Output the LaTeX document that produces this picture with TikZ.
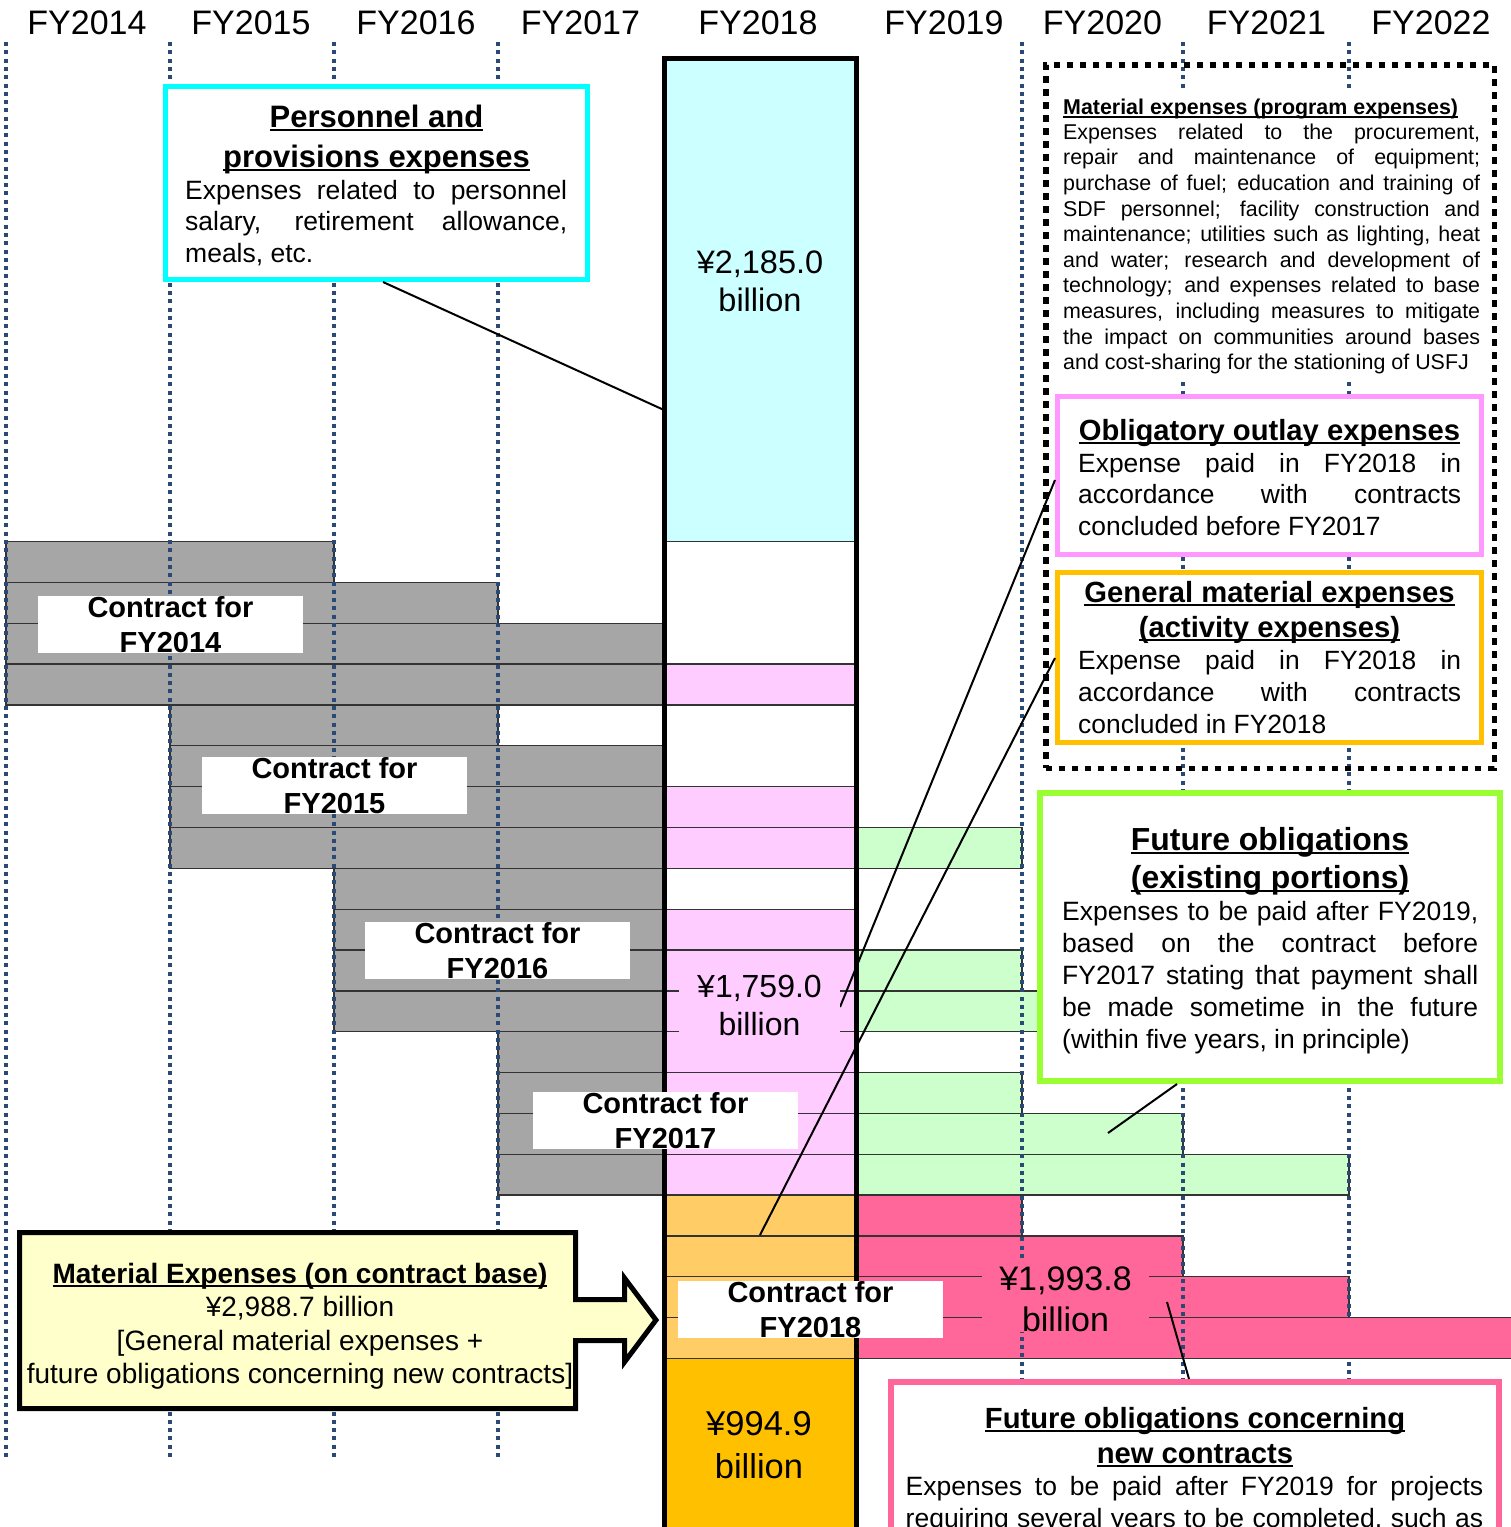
\documentclass[tikz,border=0pt]{standalone}
\usepackage{fontspec}
\setmainfont{Liberation Sans}
\newcommand\fs[2]{\fontsize{#1pt}{#2pt}\selectfont}
\newcommand\uln[1]{\setbox0=\hbox{#1}\rlap{\rule[-0.13em]{\wd0}{0.07em}}\box0}
\newcommand\jl[2]{\makebox[#1pt][s]{#2}}
\definecolor{cGray}{HTML}{A6A6A6}
\definecolor{cPink}{HTML}{FFCCFF}
\definecolor{cGreen}{HTML}{CCFFCC}
\definecolor{cRed}{HTML}{FF6699}
\definecolor{cLOr}{HTML}{FFCC66}
\definecolor{cDOr}{HTML}{FFC000}
\definecolor{cCyanL}{HTML}{CCFFFF}
\definecolor{cYel}{HTML}{FFFFCC}
\definecolor{cNavy}{HTML}{2A4A75}
\definecolor{cCyanB}{HTML}{00FFFF}
\definecolor{cPinkB}{HTML}{FF99FF}
\definecolor{cLime}{HTML}{99FF33}
\newcommand\cell[4]{\filldraw[cellst, fill=#4] (#1,{541.5+40.85*#3}) rectangle (#2,{541.5+40.85*(#3+1)});}
\begin{document}
\begin{tikzpicture}[x=1pt,y=-1pt,
  cellst/.style={draw=black!80, line width=1.3pt},
  dotln/.style={draw=cNavy, line width=3.8pt, dash pattern=on 4pt off 4.3pt},
  callout/.style={draw=black, line width=2pt},
  txt/.style={inner sep=0pt},
  hdr/.style={inner sep=0pt, anchor=base, font=\fs{34}{40}},
  lblbox/.style={fill=white, minimum width=265pt, minimum height=57pt, inner sep=0pt},
  lbltxt/.style={inner sep=0pt, anchor=north, align=center, font=\fs{29}{35}\bfseries},
  infobox/.style={fill=white, inner sep=0pt},
  titletxt/.style={inner sep=0pt, anchor=north, align=center},
  bodytxt/.style={inner sep=0pt, anchor=north west, align=left}
]
\useasboundingbox (0,0) rectangle (1511,1527);
\fill[white] (0,0) rectangle (1511,1527);

% FY2018 column top (personnel)
\filldraw[cellst, fill=cCyanL] (664.5,58.5) rectangle (856.2,541.5);

% contract bars
\cell{6}{334}{0}{cGray}
\cell{6}{498}{1}{cGray}
\foreach \r in {2,3} {\cell{6}{664}{\r}{cGray}}
\cell{170}{498}{4}{cGray}
\foreach \r in {5,6,7} {\cell{170}{664}{\r}{cGray}}
\foreach \r in {8,...,11} {\cell{334}{664}{\r}{cGray}}
\foreach \r in {12,...,15} {\cell{498}{664}{\r}{cGray}}
\foreach \r in {3,6,7,9,10,11,12,13,14,15} {\cell{664.5}{856.2}{\r}{cPink}}
\cell{856.2}{1022}{7}{cGreen}
\cell{856.2}{1022}{10}{cGreen}
\cell{856.2}{1183}{11}{cGreen}
\cell{856.2}{1022}{13}{cGreen}
\cell{856.2}{1183}{14}{cGreen}
\cell{856.2}{1349}{15}{cGreen}
\foreach \r in {16,...,19} {\cell{664.5}{856.2}{\r}{cLOr}}
\cell{856.2}{1022}{16}{cRed}
\cell{856.2}{1183}{17}{cRed}
\cell{856.2}{1349}{18}{cRed}
\cell{856.2}{1520}{19}{cRed}
\filldraw[cellst, fill=cDOr] (664.5,1358.5) rectangle (856.2,1545);

% year separators
\foreach \x in {6,170,334,498,1022,1183,1349} {\draw[dotln] (\x,42) -- (\x,1457);}
\fill[cRed] (1345,1318.6) rectangle (1520,1357.6);

% FY2018 column frame
\draw[line width=5pt] (664.5,58.5) rectangle (856.2,1545);

% year headers
\node[hdr] (h14) at (87,34) {FY2014};
\node[hdr] (h15) at (251,34) {FY2015};
\node[hdr] (h16) at (416,34) {FY2016};
\node[hdr] (h17) at (580.5,34) {FY2017};
\node[hdr] (h18) at (758,34) {FY2018};
\node[hdr] (h19) at (944,34) {FY2019};
\node[hdr] (h20) at (1102.5,34) {FY2020};
\node[hdr] (h21) at (1266.5,34) {FY2021};
\node[hdr] (h22) at (1431,34) {FY2022};

% boxes (frames)
\node[infobox, draw=cCyanB, line width=5pt, minimum width=422pt, minimum height=193pt] (persbox) at (376.5,183) {};
\node[draw=black, line width=5.5pt, dash pattern=on 6.5pt off 6.5pt, minimum width=448.5pt, minimum height=703.5pt, inner sep=0pt] (matbox) at (1270,416.5) {};
\node[infobox, draw=cPinkB, line width=5pt, minimum width=424pt, minimum height=158pt] (oblbox) at (1269.5,475.5) {};
\node[infobox, draw=cDOr, line width=5pt, minimum width=424pt, minimum height=170pt] (genbox) at (1269.5,657.5) {};
\node[infobox, draw=cLime, line width=6pt, minimum width=460pt, minimum height=288pt] (futbox) at (1270,937) {};
\node[infobox, draw=cRed, line width=6pt, minimum width=608pt, minimum height=175pt] (newbox) at (1195,1469.5) {};

% callout connectors
\coordinate (pcol) at (664,410);
\coordinate (o1) at (840,1007);
\coordinate (g1) at (760,1235);
\coordinate (f1) at (1108,1133);
\coordinate (n1) at (1167,1302);
\draw[callout] ([xshift=6.5pt]persbox.south) -- (pcol);
\draw[callout] ([yshift=-4.5pt]oblbox.west) -- (o1);
\draw[callout] ([yshift=-0.5pt]genbox.west) -- (g1);
\draw[callout] ([xshift=-93pt]futbox.south) -- (f1);
\draw[callout] (n1) -- ([xshift=-6pt]newbox.north);

% personnel text
\node[titletxt, font=\fs{31}{40}\bfseries] (perstitle) at (376.5,99) {\strut\uln{Personnel and}\\\uln{provisions expenses}};
\node[bodytxt, font=\fs{26.5}{31.8}] (persbody) at (185,176.7) {\strut\jl{382}{Expenses related to personnel}\\\jl{382}{salary, retirement allowance,}\\meals, etc.};

% material expenses text
\node[anchor=north west, inner xsep=4pt, inner ysep=6pt, fill=white, align=left, font=\fs{21.4}{25.6}] (mattxt) at (1059,90.6) {\strut\textbf{\uln{Material expenses (program expenses)}}\\[-1pt]\jl{417}{Expenses related to the procurement,}\\\jl{417}{repair and maintenance of equipment;}\\\jl{417}{purchase of fuel; education and training of}\\\jl{417}{SDF personnel; facility construction and}\\\jl{417}{maintenance; utilities such as lighting, heat}\\\jl{417}{and water; research and development of}\\\jl{417}{technology; and expenses related to base}\\\jl{417}{measures, including measures to mitigate}\\\jl{417}{the impact on communities around bases}\\and cost-sharing for the stationing of USFJ};

% obligatory
\node[titletxt, font=\fs{29.2}{35}\bfseries] (obltitle) at (1269.5,415.5) {\strut\uln{Obligatory outlay expenses}};
\node[bodytxt, font=\fs{26.4}{31.7}] (oblbody) at (1078,449.8) {\strut\jl{383}{Expense paid in FY2018 in}\\\jl{383}{accordance with contracts}\\concluded before FY2017};

% general
\node[titletxt, font=\fs{29.2}{35}\bfseries] (gentitle) at (1269.5,577.5) {\strut\uln{General material expenses}\\\uln{(activity expenses)}};
\node[bodytxt, font=\fs{26.4}{32}] (genbody) at (1078,646.6) {\strut\jl{383}{Expense paid in FY2018 in}\\\jl{383}{accordance with contracts}\\concluded in FY2018};

% future existing
\node[titletxt, font=\fs{31.9}{38}\bfseries] (futtitle) at (1270,823.4) {\strut\uln{Future obligations}\\\uln{(existing portions)}};
\node[bodytxt, font=\fs{26.5}{32}] (futbody) at (1062,897.6) {\strut\jl{416}{Expenses to be paid after FY2019,}\\\jl{416}{based on the contract before}\\\jl{416}{FY2017 stating that payment shall}\\\jl{416}{be made sometime in the future}\\(within five years, in principle)};

% future new
\node[titletxt, font=\fs{29.2}{35}\bfseries] (newtitle) at (1195,1403.5) {\strut\uln{Future obligations concerning}\\\uln{new contracts}};
\node[bodytxt, font=\fs{26.5}{32}] (newbody) at (905.5,1472.6) {\strut\jl{577.5}{Expenses to be paid after FY2019 for projects}\\\jl{577.5}{requiring several years to be completed, such as}};

% contract labels
\node[lblbox] (l14) at (170.5,624.5) {};
\node[lbltxt] (l14t) at (170.5,592.5) {\strut Contract for\\FY2014};
\node[lblbox] (l15) at (334.5,785.5) {};
\node[lbltxt] (l15t) at (334.5,753.5) {\strut Contract for\\FY2015};
\node[lblbox] (l16) at (497.5,950.5) {};
\node[lbltxt] (l16t) at (497.5,918.5) {\strut Contract for\\FY2016};
\node[lblbox] (l17) at (665.5,1120.5) {};
\node[lbltxt] (l17t) at (665.5,1088.5) {\strut Contract for\\FY2017};
\node[lblbox] (l18) at (810.5,1309.5) {};
\node[lbltxt] (l18t) at (810.5,1277.5) {\strut Contract for\\FY2018};

% amounts
\node[titletxt, font=\fs{32.5}{38}] (v2185) at (760,246.4) {\strut ¥2,185.0\\billion};
\node[titletxt, font=\fs{32}{38}, fill=cPink, inner xsep=18pt] (v1759) at (759.5,970.4) {\strut ¥1,759.0\\billion};
\node[titletxt, font=\fs{34}{41}, fill=cRed, inner xsep=17pt] (v1993) at (1065.5,1261.3) {\strut ¥1,993.8\\billion};
\node[titletxt, font=\fs{34.5}{43}] (v994) at (759,1404.9) {\strut ¥994.9\\billion};

% material expenses on contract base (arrow)
\draw[line width=5pt, fill=cYel, line join=miter] (19.5,1232.5) -- (575.5,1232.5) -- (575.5,1299.5) -- (624.5,1299.5) -- (624.5,1278) -- (656,1320) -- (624.5,1362) -- (624.5,1340.5) -- (575.5,1340.5) -- (575.5,1408.5) -- (19.5,1408.5) -- cycle;
\node[titletxt, font=\fs{28}{33.5}] (arrtxt) at (300,1259.5) {\strut\textbf{\uln{Material Expenses (on contract base)}}\\¥2,988.7 billion\\{[}General material expenses +\\future obligations concerning new contracts{]}};
\end{tikzpicture}
\end{document}
